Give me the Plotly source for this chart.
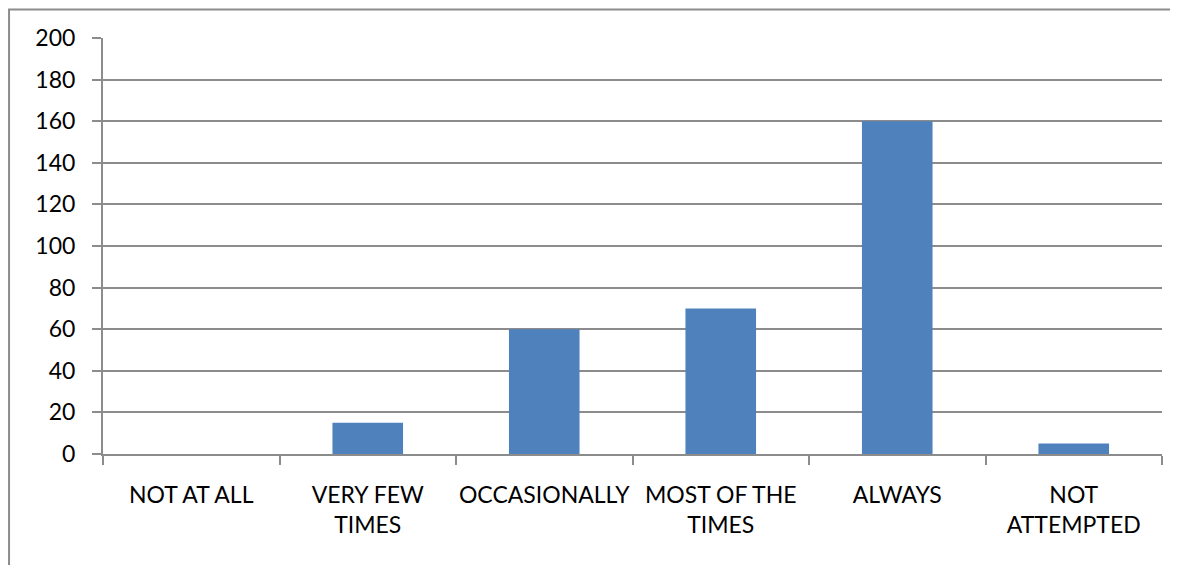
import plotly.graph_objects as go

categories = ["NOT AT ALL", "VERY FEW<br>TIMES", "OCCASIONALLY", "MOST OF THE<br>TIMES", "ALWAYS", "NOT<br>ATTEMPTED"]
values = [0, 15, 60, 70, 160, 5]
y_ticks = [0, 20, 40, 60, 80, 100, 120, 140, 160, 180, 200]

W, H = 1178, 565
ml, mr, mt, mb = 95, 23.5, 29.5, 119
pw = W - ml - mr
ph = H - mt - mb

fig = go.Figure(go.Bar(x=categories, y=values, marker_color="#4F81BD", marker_line_width=0))

gray = "#8C8C8C"
font = dict(family="Lato", size=23, color="#000000")
yfont = dict(family="Lato", size=23, color="#000000")

fig.update_layout(
    width=W, height=H,
    margin=dict(l=ml, r=mr, t=mt, b=mb, pad=0, autoexpand=False),
    paper_bgcolor="white", plot_bgcolor="white",
    bargap=0.6, showlegend=False, font=font,
    shapes=[dict(type="rect", xref="paper", yref="paper",
                 x0=(1 - ml) / pw, x1=(1300 - ml) / pw,
                 y0=(H - mb - 700) / ph, y1=(H - mb - 1) / ph,
                 line=dict(color=gray, width=2), fillcolor="rgba(0,0,0,0)", layer="below")],
)
fig.update_xaxes(showline=True, linecolor=gray, linewidth=2, ticks="outside", tickson="boundaries",
                 ticklen=9, tickcolor=gray, tickwidth=2, showgrid=False, ticklabelstandoff=19,
                 tickangle=0, automargin=False, tickfont=font)
fig.update_yaxes(range=[0, 200], tickvals=y_ticks, showline=True, linecolor=gray, linewidth=2,
                 ticks="outside", ticklen=9, tickcolor=gray, tickwidth=2, showgrid=True,
                 gridcolor=gray, gridwidth=2, zeroline=False, ticklabelstandoff=12,
                 automargin=False, tickfont=yfont)

fig.write_html("out.html")
